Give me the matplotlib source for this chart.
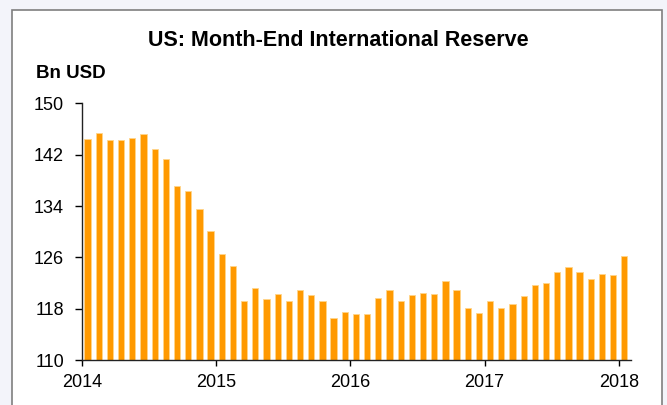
import matplotlib.pyplot as plt
from matplotlib.patches import Rectangle
import numpy as np

plt.rcParams['font.family'] = ['Liberation Sans', 'DejaVu Sans']

# month-end reserve, Jan 2014 .. Jan 2018 (Bn USD)
reserve = [
    144.4, 145.3, 144.3, 144.3, 144.6, 145.2, 142.9, 141.3, 137.1, 136.3, 133.6, 130.1,
    126.5, 124.7, 119.2, 121.2, 119.5, 120.3, 119.2, 120.9, 120.2, 119.2, 116.6, 117.5,
    117.2, 117.2, 119.7, 120.9, 119.2, 120.2, 120.4, 120.3, 122.4, 121.0, 118.2, 117.3,
    119.2, 118.2, 118.8, 120.0, 121.7, 122.0, 123.7, 124.5, 123.8, 122.7, 123.5, 123.3,
    126.2,
]
year_ticks = [2014, 2015, 2016, 2017, 2018]
y_ticks = [110, 118, 126, 134, 142, 150]

fig = plt.figure(figsize=(6.67, 4.05), dpi=100)
fig.patch.set_facecolor('#f3f4fa')
W, H = 667, 405

# white panel with grey frame
fig.patches.append(Rectangle((12 / W, -0.05), (662 - 12) / W, (H - 10) / H + 0.05,
                             transform=fig.transFigure, facecolor='white',
                             edgecolor='#7f7f7f', linewidth=1.2, zorder=-10))

ax = fig.add_axes([82 / W, 44.7 / H, (631 - 82) / W, (360.3 - 103.3) / H])
ax.set_facecolor('none')
ax.set_zorder(5)

x = np.arange(len(reserve)) + 0.5
ax.bar(x, np.array(reserve) - 110, bottom=110, width=0.56, color='#ff9900',
       edgecolor='#ffd58a', linewidth=0.6)

ax.set_xlim(0, 49.1)
ax.set_ylim(110, 150)
ax.set_yticks(y_ticks)
ax.set_xticks([(yr - 2014) * 12 for yr in year_ticks])
ax.set_xticklabels([str(yr) for yr in year_ticks])
ax.tick_params(axis='both', direction='out', length=5, width=1, labelsize=13,
               colors='black')
ax.tick_params(axis='y', pad=8)
ax.tick_params(axis='x', length=4, pad=6)
for s in ['top', 'right']:
    ax.spines[s].set_visible(False)
for s in ['left', 'bottom']:
    ax.spines[s].set_color('#222222')
    ax.spines[s].set_linewidth(1)

fig.text(338 / W, 1 - 40 / H, 'US: Month-End International Reserve', ha='center',
         va='center', fontsize=15.5, fontweight='bold')
fig.text(36 / W, 1 - 73 / H, 'Bn USD', ha='left', va='center', fontsize=13.5,
         fontweight='bold')

fig.savefig('out.png', dpi=100, facecolor=fig.get_facecolor())
